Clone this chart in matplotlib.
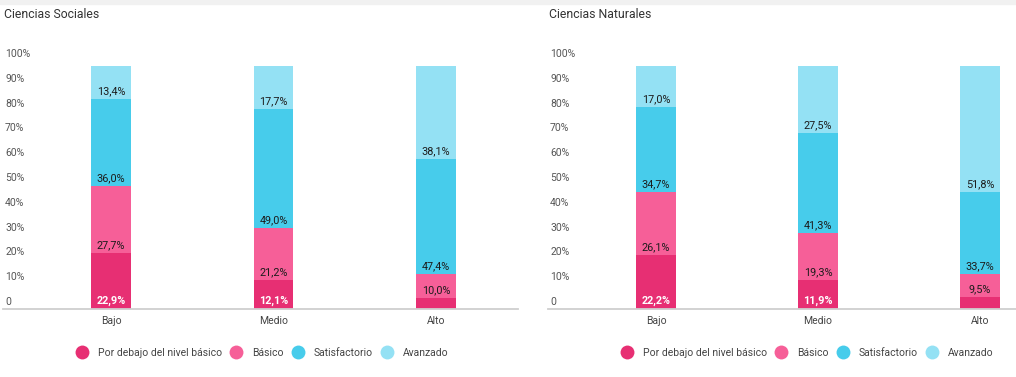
import numpy as np
import matplotlib.pyplot as plt
from matplotlib.lines import Line2D
from matplotlib.patches import Rectangle

plt.rcParams['font.family'] = ['Roboto', 'DejaVu Sans']

categories = ['Bajo', 'Medio', 'Alto']
series_names = ['Por debajo del nivel básico', 'Básico', 'Satisfactorio', 'Avanzado']
colors = ['#E72F73', '#F65F98', '#47CCEB', '#94E1F4']

# Ciencias Sociales
soc_debajo = [22.9, 12.1, 4.5]
soc_basico = [27.7, 21.2, 10.0]
soc_satisf = [36.0, 49.0, 47.4]
soc_avanz = [13.4, 17.7, 38.1]

# Ciencias Naturales
nat_debajo = [22.2, 11.9, 5.0]
nat_basico = [26.1, 19.3, 9.5]
nat_satisf = [34.7, 41.3, 33.7]
nat_avanz = [17.0, 27.5, 51.8]

ytick_labels = ['0', '10%', '20%', '30%', '40%', '50%', '60%', '70%', '80%', '90%', '100%']

W, H = 1016, 377
fig = plt.figure(figsize=(W / 100, H / 100), dpi=100)
fig.patches.append(Rectangle((0, 1 - 4 / H), 1, 4 / H, transform=fig.transFigure,
                             color='#f1f1f1', zorder=0))


def panel(x0, x1, xlim, title, stacks, legend_x):
    ax = fig.add_axes([x0 / W, (H - 309) / H, (x1 - x0) / W, (309 - 40) / H])
    x = np.arange(len(categories))
    bottom = np.zeros(len(categories))
    for i, vals in enumerate(stacks):
        vals = np.array(vals)
        ax.bar(x, vals, 0.246, bottom=bottom, color=colors[i], linewidth=0, zorder=2)
        for xi, b, v in zip(x, bottom, vals):
            if v < 8:
                continue
            txt = f'{v:.1f}%'.replace('.', ',')
            if i == 0:
                ax.annotate(txt, (xi, b), xytext=(0, 2), textcoords='offset points',
                            ha='center', va='bottom', fontsize=7.8, color='white',
                            fontweight='bold', zorder=3)
            else:
                ax.annotate(txt, (xi, b), xytext=(0, 2), textcoords='offset points',
                            ha='center', va='bottom', fontsize=7.8, color='#1c1c1c',
                            zorder=3)
        bottom += vals
    ax.set_xlim(*xlim)
    ax.set_ylim(0, 110.7)
    ax.set_xticks(x)
    ax.set_xticklabels(categories, fontsize=7.5, color='#444444')
    ax.set_yticks(3.3 + 10.2 * np.arange(len(ytick_labels)))
    ax.set_yticklabels(ytick_labels, fontsize=7.5, color='#555555', ha='left')
    ax.tick_params(axis='y', length=0, pad=-1.5)
    ax.tick_params(axis='x', length=0, pad=5)
    for s in ['top', 'right', 'left']:
        ax.spines[s].set_visible(False)
    ax.spines['bottom'].set_color('#cfcfcf')
    ax.spines['bottom'].set_linewidth(1.3)
    ax.patch.set_alpha(0)
    fig.text((x0 + 1) / W, 1 - 14 / H, title, fontsize=8.8, color='#333333', va='center')
    handles = [Line2D([], [], marker='o', linestyle='none', markersize=10,
                      markerfacecolor=c, markeredgewidth=0) for c in colors]
    fig.legend(handles, series_names, loc='center', bbox_to_anchor=(legend_x / W, 1 - 353 / H),
               ncol=4, frameon=False, fontsize=7.5, handletextpad=0.5, columnspacing=0.4,
               labelcolor='#444444')
    return ax


panel(3, 518, (-0.665, 2.505), 'Ciencias Sociales',
      [soc_debajo, soc_basico, soc_satisf, soc_avanz], 260)
panel(548, 1016, (-0.667, 2.222), 'Ciencias Naturales',
      [nat_debajo, nat_basico, nat_satisf, nat_avanz], 805)

fig.savefig('out.png', dpi=100)
